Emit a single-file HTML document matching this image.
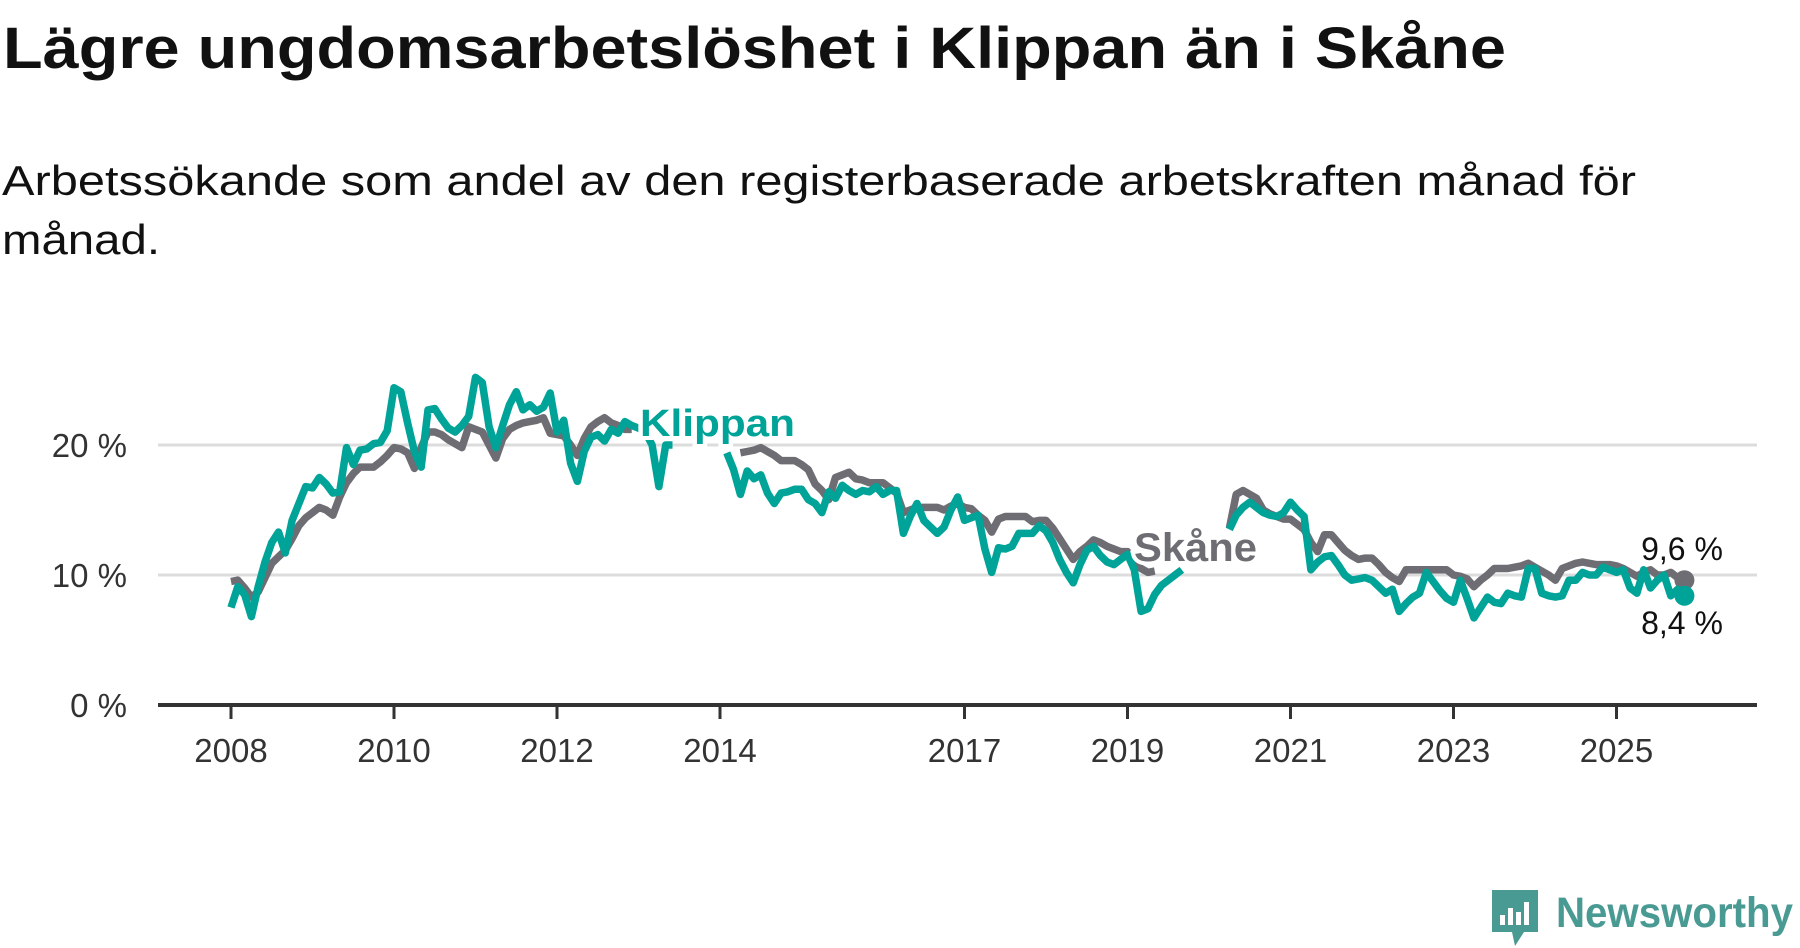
<!DOCTYPE html>
<html><head><meta charset="utf-8"><style>
html,body{margin:0;padding:0;background:#fff;}
svg{display:block;font-family:"Liberation Sans",sans-serif;}
</style></head><body>
<svg id="chart" width="1800" height="948" viewBox="0 0 1800 948">
<text x="3" y="68" font-size="58" font-weight="bold" fill="#111" textLength="1503" lengthAdjust="spacingAndGlyphs">Lägre ungdomsarbetslöshet i Klippan än i Skåne</text>
<text x="2" y="195" font-size="42" fill="#111" textLength="1634" lengthAdjust="spacingAndGlyphs">Arbetssökande som andel av den registerbaserade arbetskraften månad för</text>
<text x="2" y="254" font-size="42" fill="#111" textLength="158" lengthAdjust="spacingAndGlyphs">månad.</text>
<g id="grid"></g>
<g id="series"></g>
<g id="labels"></g>
<g>
<path d="M1492 890 h46 v42 h-14 l-9 14 l-3 -14 h-20 z" fill="#4a9a94"/>
<rect x="1500" y="915" width="5" height="10" fill="#fff"/>
<rect x="1508" y="908" width="5" height="17" fill="#fff"/>
<rect x="1516" y="912" width="5" height="13" fill="#fff"/>
<rect x="1524" y="902" width="5" height="23" fill="#fff"/>
<text x="1556" y="927" font-size="43" font-weight="bold" fill="#4a9a94" textLength="237" lengthAdjust="spacingAndGlyphs">Newsworthy</text>
</g>
</svg>
<script>
const yTicks = [0, 10, 20];
const yTickLabels = ["0 %", "10 %", "20 %"];
const xTickYears = [2008, 2010, 2012, 2014, 2017, 2019, 2021, 2023, 2025];
const startYear = 2008;
const klippan = [7.5,9.1,8.5,6.8,9.1,11,12.5,13.3,11.7,14.2,15.5,16.8,
16.7,17.5,17,16.3,16.4,19.8,18.5,19.6,19.7,20.1,20.2,21.1,
24.4,24.1,21.7,19.5,18.3,22.7,22.8,22,21.3,21,21.5,22.2,
25.2,24.8,21.4,19.8,21.5,23.1,24.1,22.7,23.1,22.6,22.9,24,
21,21.9,18.6,17.2,19.5,20.6,20.8,20.3,21.2,20.9,21.8,21.5,
21.3,21,20,16.8,20,20,null,null,null,null,null,null,null,
19.4,18.1,16.2,18,17.4,17.7,16.3,15.5,16.3,16.4,16.6,16.6,15.8,15.5,14.8,
16.4,15.9,16.9,16.5,16.2,16.5,16.4,16.8,16.2,16.5,16.5,13.2,
14.5,15.5,14.2,13.7,13.2,13.7,15,16,14.2,14.4,14.6,12,
10.2,12.1,12,12.2,13.2,13.2,13.2,13.8,13.4,12.5,11.2,10.2,
9.4,10.8,11.9,12.2,11.5,11,10.8,11.2,11.6,10.4,7.2,7.4,
8.5,9.2,9.6,10,10.4,null,null,null,null,null,null,13.5,
14.6,15.2,15.6,15.2,14.8,14.6,14.5,14.8,15.6,15,14.5,10.4,
11,11.4,11.5,10.8,10,9.6,9.7,9.8,9.6,9.1,8.6,8.9,
7.2,7.8,8.3,8.6,10.2,9.5,8.8,8.2,7.9,9.6,8.2,6.7,
7.5,8.3,7.9,7.8,8.6,8.4,8.3,10.5,10.5,8.6,8.4,8.3,
8.4,9.6,9.6,10.2,10,10,10.6,10.4,10.2,10.4,9,8.6,
10.4,9,9.6,10,8.4,8.9,8.4];
const skane = [9.5,9.6,9,8.3,8.7,9.8,10.9,11.4,11.9,12.8,13.8,14.4,
14.8,15.2,15,14.6,16,17.1,17.8,18.3,18.3,18.3,18.7,19.2,
19.8,19.7,19.4,18.2,19.8,21,21,20.8,20.4,20.1,19.8,21.4,
21.2,21,20,19,20.5,21.2,21.5,21.7,21.8,21.9,22.1,20.9,
20.8,20.7,20,19.2,20.5,21.4,21.8,22.1,21.7,21.5,21.2,21.2,
null,null,null,null,null,null,null,null,null,null,null,null,null,null,null,
19.4,19.5,19.6,19.8,19.5,19.2,18.8,18.8,18.8,18.5,18.1,17,16.5,15.8,
17.5,17.7,17.9,17.4,17.3,17.1,17.1,17.1,16.7,16.3,14.8,15,15.2,
15.2,15.2,15.2,15,15.3,15.5,15.2,15.1,14.6,14.2,13.3,14.3,
14.5,14.5,14.5,14.5,14.1,14.2,14.2,13.6,12.8,12,11.2,11.8,
12.2,12.7,12.5,12.2,12,11.8,11.8,11,10.5,10.2,10.3,null,
null,null,null,null,null,null,null,null,null,13.6,16.2,16.5,16.2,15.9,15,14.7,14.5,14.3,
14.3,13.9,13.5,12.5,11.8,13.1,13.1,12.5,11.9,11.5,11.2,11.3,
11.3,10.8,10.2,9.8,9.5,10.4,10.4,10.4,10.4,10.4,10.4,10.4,
10,9.9,9.7,9.1,9.6,10,10.5,10.5,10.5,10.6,10.7,10.9,
10.6,10.3,10,9.6,10.5,10.7,10.9,11,10.9,10.8,10.8,10.8,
10.7,10.5,10.2,9.9,10.2,10.4,10,10,10.2,9.8,9.6];
const lastLabels = ["9,6 %", "8,4 %"];

const NS = "http://www.w3.org/2000/svg";
const x0 = 231, pxPerYear = 81.5, y0 = 705, pxPerPct = 13;
function xScale(monthIndex){ return x0 + monthIndex / 12 * pxPerYear; }
function yScale(v){ return y0 - v * pxPerPct; }
function mk(tag, attrs, parent){ const e = document.createElementNS(NS, tag); for (const k in attrs) e.setAttribute(k, attrs[k]); parent.appendChild(e); return e; }

const grid = document.getElementById('grid');
yTicks.forEach((t, i) => {
  if (t !== 0) {
    const l = mk('line', {x1: 158, x2: 1757, y1: yScale(t), y2: yScale(t), stroke: '#dcdcdc', 'stroke-width': 3}, grid);
    
    
  }
  const tx = mk('text', {x: 127, y: yScale(t) + 12, 'text-anchor': 'end', 'font-size': 33, fill: '#333'}, grid);
  tx.textContent = yTickLabels[i];
  
  
});
const axis = mk('line', {x1: 158, x2: 1757, y1: y0, y2: y0, stroke: '#333', 'stroke-width': 4}, grid);


xTickYears.forEach(yr => {
  const x = xScale((yr - startYear) * 12);
  const tk = mk('line', {x1: x, x2: x, y1: y0, y2: y0 + 14, stroke: '#333', 'stroke-width': 3}, grid);
  
  
  const tx = mk('text', {x: x, y: 762, 'text-anchor': 'middle', 'font-size': 33, fill: '#333'}, grid);
  tx.textContent = yr;
  
  
});

const series = document.getElementById('series');
function drawLine(data, color, name){
  let d = '', pen = false;
  data.forEach((v, i) => {
    if (v === null) { pen = false; return; }
    d += (pen ? 'L' : 'M') + xScale(i).toFixed(1) + ' ' + yScale(v).toFixed(1);
    pen = true;
  });
  const p = mk('path', {d: d, fill: 'none', stroke: color, 'stroke-width': 7.5, 'stroke-linejoin': 'round'}, series);
  
  
  const li = data.length - 1;
  const c = mk('circle', {cx: xScale(li), cy: yScale(data[li]), r: 10, fill: color}, series);
  
  
}
drawLine(skane, '#6e6d73', 'skane-line');
drawLine(klippan, '#00a398', 'klippan-line');

const labels = document.getElementById('labels');
const kl = mk('text', {x: 640, y: 436, 'font-size': 38, 'font-weight': 'bold', fill: '#00a398', stroke: '#fff', 'stroke-width': 8, 'paint-order': 'stroke', textLength: 155, lengthAdjust: 'spacingAndGlyphs'}, labels);
kl.textContent = 'Klippan';


const sl = mk('text', {x: 1134, y: 561, 'font-size': 40, 'font-weight': 'bold', fill: '#6e6d73', stroke: '#fff', 'stroke-width': 8, 'paint-order': 'stroke', textLength: 123, lengthAdjust: 'spacingAndGlyphs'}, labels);
sl.textContent = 'Skåne';


const lv1 = mk('text', {x: 1682, y: 560, 'text-anchor': 'middle', 'font-size': 32, fill: '#111'}, labels);
lv1.textContent = lastLabels[0];


const lv2 = mk('text', {x: 1682, y: 634, 'text-anchor': 'middle', 'font-size': 32, fill: '#111'}, labels);
lv2.textContent = lastLabels[1];


</script>
</body></html>
